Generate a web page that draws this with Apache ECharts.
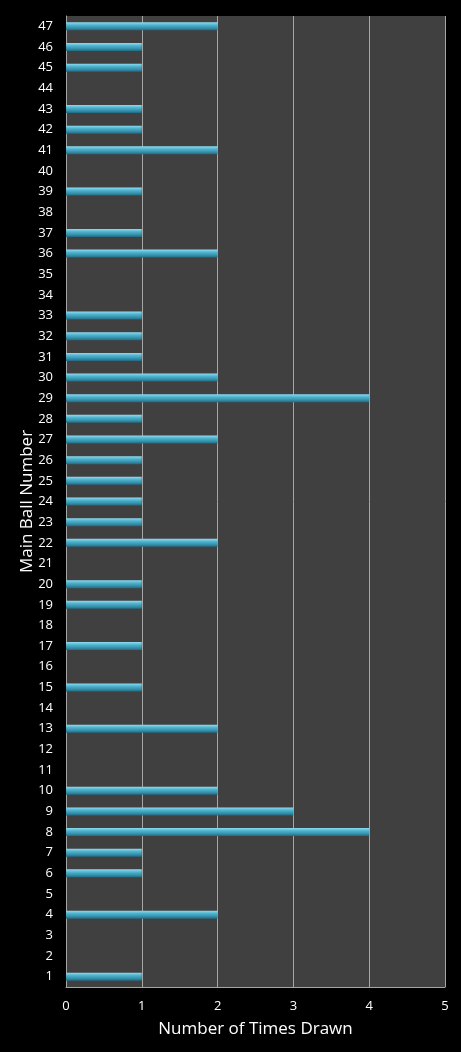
<!DOCTYPE html>
<html><head><meta charset="utf-8">
<script src="https://cdn.jsdelivr.net/npm/echarts@6/dist/echarts.min.js"></script>
<style>html,body{margin:0;padding:0;background:#000;}#c{width:461px;height:1052px;}</style>
</head><body><div id="c"></div>
<script>
const categories = ["1","2","3","4","5","6","7","8","9","10","11","12","13","14","15","16","17","18","19","20","21","22","23","24","25","26","27","28","29","30","31","32","33","34","35","36","37","38","39","40","41","42","43","44","45","46","47"];
const timesDrawn = [1,0,0,2,0,1,1,4,3,2,0,0,2,0,1,0,1,0,1,1,0,2,1,1,1,1,2,1,4,2,1,1,1,0,0,2,1,0,1,0,2,1,1,0,1,1,2];
const xTicks = [0,1,2,3,4,5];
const xTitle = "Number of Times Drawn";
const yTitle = "Main Ball Number";

const chart = echarts.init(document.getElementById('c'));
chart.setOption({
  backgroundColor: '#000000',
  animation: false,
  grid: { left: 66, right: 16, top: 16, bottom: 65, show: true, backgroundColor: '#404040', borderWidth: 0 },
  xAxis: {
    type: 'value', min: xTicks[0], max: xTicks[xTicks.length-1], interval: 1,
    name: xTitle, nameLocation: 'middle', nameGap: 34, nameMoveOverlap: false,
    nameTextStyle: { color: '#ffffff', fontSize: 17, fontFamily: 'Open Sans' },
    axisLine: { show: true, lineStyle: { color: '#a6a6a6', width: 1 } },
    axisTick: { show: false },
    axisLabel: { color: '#ffffff', fontSize: 13, fontFamily: 'Open Sans', margin: 13 },
    splitLine: { show: true, lineStyle: { color: '#a6a6a6', width: 1 } }
  },
  yAxis: {
    type: 'category', data: categories,
    name: yTitle, nameLocation: 'middle', nameGap: 30, nameRotate: 90, nameMoveOverlap: false,
    nameTextStyle: { color: '#ffffff', fontSize: 17, fontFamily: 'Open Sans' },
    axisLine: { show: true, lineStyle: { color: '#a6a6a6', width: 1 } },
    axisTick: { show: false },
    axisLabel: { color: '#ffffff', fontSize: 13, fontFamily: 'Open Sans', margin: 13, interval: 0 },
    splitLine: { show: false }
  },
  series: [{
    type: 'bar', data: timesDrawn, barWidth: 8,
    itemStyle: {
      color: new echarts.graphic.LinearGradient(0, 0, 0, 1, [
        { offset: 0, color: '#8fdcf0' },
        { offset: 0.35, color: '#4fb3cf' },
        { offset: 0.7, color: '#3692ad' },
        { offset: 1, color: '#246a80' }
      ])
    }
  }]
});
</script></body></html>
